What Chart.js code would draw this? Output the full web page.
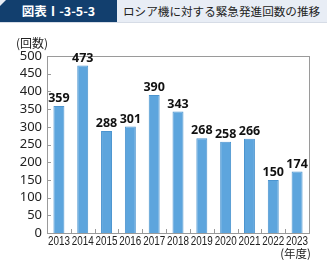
<!DOCTYPE html>
<html>
<head>
<meta charset="utf-8">
<script src="https://cdn.jsdelivr.net/npm/chart.js@4"></script>
<style>
  html, body { margin: 0; padding: 0; background: #fff; }
  #wrap { position: relative; width: 327px; height: 260px; overflow: hidden; }
  #head { position: absolute; left: 0; top: 0; width: 327px; height: 22px; background: #e8edf5; border-bottom: 1px solid #d6dce6; }
  #tag { position: absolute; left: 0; top: 0; width: 117px; height: 22px; background: #123f6e;
         clip-path: polygon(6px 0, 100% 0, 100% 100%, 0 100%, 0 6px);
         color: #fff; font: bold 12.5px "Noto Sans CJK JP", sans-serif; line-height: 22px; text-align: center; white-space: nowrap; }
  #ttl { position: absolute; left: 123px; top: 0; color: #222; font: 11.6px "Noto Sans CJK JP", sans-serif; line-height: 22px; white-space: nowrap; }
  canvas { position: absolute; left: 0; top: 0; }
</style>
</head>
<body>
<div id="wrap">
  <div id="head"><div id="tag">図表Ⅰ-3-5-3</div><div id="ttl">ロシア機に対する緊急発進回数の推移</div></div>
  <canvas id="barChart" width="327" height="260"></canvas>
</div>
<script>
const years = ["2013", "2014", "2015", "2016", "2017", "2018", "2019", "2020", "2021", "2022", "2023"];
const counts = [359, 473, 288, 301, 390, 343, 268, 258, 266, 150, 174];
const yTicks = [0, 50, 100, 150, 200, 250, 300, 350, 400, 450, 500];

// 枠線・内向きの目盛り・年ラベル(長体)・数値ラベル
const decorations = {
  id: 'decorations',
  afterDraw(chart) {
    const ctx = chart.ctx;
    const a = chart.chartArea;
    const x = chart.scales.x, y = chart.scales.y;
    ctx.save();
    ctx.strokeStyle = '#9a9a9a';
    ctx.lineWidth = 1;
    ctx.strokeRect(Math.round(a.left) + 0.5, Math.round(a.top) + 0.5, Math.round(a.right - a.left), Math.round(a.bottom - a.top));
    ctx.beginPath();
    yTicks.forEach(v => {
      const py = Math.round(y.getPixelForValue(v)) + 0.5;
      ctx.moveTo(a.left, py); ctx.lineTo(a.left + 4, py);
    });
    for (let i = 1; i < years.length; i++) {
      const px = Math.round((x.getPixelForValue(i - 1) + x.getPixelForValue(i)) / 2) + 0.5;
      ctx.moveTo(px, a.bottom); ctx.lineTo(px, a.bottom - 4);
    }
    ctx.stroke();

    // 年ラベルは横を詰めて描く
    ctx.fillStyle = '#222';
    ctx.font = '13px "Liberation Sans", sans-serif';
    ctx.textAlign = 'center';
    ctx.textBaseline = 'middle';
    years.forEach((yr, i) => {
      const px = x.getPixelForValue(i);
      ctx.save();
      ctx.translate(px, a.bottom + 8);
      ctx.scale(0.76, 1);
      ctx.fillText(yr, 0, 0);
      ctx.restore();
    });

    ctx.fillStyle = '#111';
    ctx.font = 'bold 12.5px "Noto Sans", sans-serif';
    ctx.textBaseline = 'bottom';
    chart.getDatasetMeta(0).data.forEach((bar, i) => {
      ctx.fillText(String(counts[i]), bar.x, bar.y - 1);
    });

    ctx.font = '12px "Noto Sans CJK JP", sans-serif';
    ctx.fillStyle = '#222';
    ctx.textBaseline = 'middle';
    ctx.textAlign = 'left';
    ctx.fillText('(回数)', 16, 43);
    ctx.textAlign = 'right';
    ctx.font = '11.5px "Noto Sans CJK JP", sans-serif';
    ctx.fillText('(年度)', 311, 254);
    ctx.restore();
  }
};

new Chart(document.getElementById('barChart').getContext('2d'), {
  type: 'bar',
  data: {
    labels: years,
    datasets: [{
      data: counts,
      backgroundColor: '#5da5dd',
      borderColor: '#4b94cf',
      borderWidth: 1,
      barPercentage: 0.46,
      categoryPercentage: 1
    }]
  },
  options: {
    responsive: false,
    animation: false,
    layout: { padding: { top: 56, right: 18, left: 0, bottom: 0 } },
    plugins: { legend: { display: false }, tooltip: { enabled: false } },
    scales: {
      x: {
        grid: { display: false, drawTicks: false },
        border: { display: false },
        ticks: { display: false },
        afterFit(s) { s.height = 27; }
      },
      y: {
        min: 0, max: 500,
        grid: { display: false, drawTicks: false },
        border: { display: false },
        afterBuildTicks(s) { s.ticks = yTicks.map(v => ({ value: v })); },
        ticks: { autoSkip: false, color: '#222', font: { family: '"Noto Sans", sans-serif', size: 13 }, padding: 5 },
        afterFit(s) { s.width = 47; }
      }
    }
  },
  plugins: [decorations]
});
</script>
</body>
</html>
